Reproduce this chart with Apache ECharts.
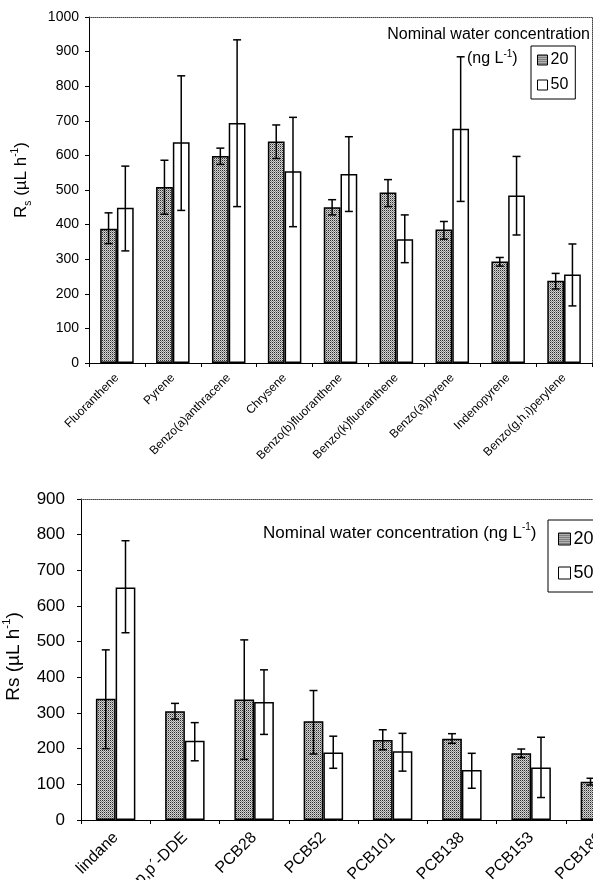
<!DOCTYPE html>
<html><head><meta charset="utf-8">
<script src="https://cdn.jsdelivr.net/npm/echarts@6/dist/echarts.min.js"></script>
<style>html,body{margin:0;padding:0;background:#fff}#c{width:593px;height:880px}</style>
</head><body><div id="c"></div>
<script>
// ---------- data: PAHs (top chart) ----------
const pahCategories = ['Fluoranthene','Pyrene','Benzo(a)anthracene','Chrysene','Benzo(b)fluoranthene','Benzo(k)fluoranthene','Benzo(a)pyrene','Indenopyrene','Benzo(g,h,i)perylene'];
const pah20   = [388, 509, 598, 640, 450, 493, 386, 293, 238];
const pah20Lo = [345, 430, 574, 591, 428, 452, 358, 280, 214];
const pah20Hi = [434, 586, 621, 688, 472, 530, 409, 305, 259];
const pah50   = [449, 638, 694, 554, 546, 358, 677, 484, 256];
const pah50Lo = [324, 441, 452, 394, 438, 290, 467, 370, 165];
const pah50Hi = [569, 830, 934, 710, 654, 428, 885, 597, 344];
const pahTicks = {min: 0, max: 1000, interval: 100};

// ---------- data: OCPs / PCBs (bottom chart) ----------
const ocCategories = ['lindane','p,p\u00b4-DDE','PCB28','PCB52','PCB101','PCB138','PCB153','PCB180'];
const oc20   = [340, 305, 338, 277, 224, 228, 187, 107];
const oc20Lo = [200, 283, 170, 185, 197, 215, 175, 98];
const oc20Hi = [477, 327, 505, 363, 253, 242, 199, 117];
const oc50   = [652, 222, 331, 189, 193, 140, 147, null];
const oc50Lo = [525, 166, 240, 145, 137, 89, 63, null];
const oc50Hi = [783, 273, 421, 235, 243, 187, 232, null];
const ocTicks = {min: 0, max: 900, interval: 100};

const seriesNames = ['20', '50'];

// ---------- helpers ----------
function makePattern() {
  const cv = document.createElement('canvas');
  cv.width = 2; cv.height = 2;
  const g = cv.getContext('2d');
  g.fillStyle = '#d2d2d2'; g.fillRect(0, 0, 2, 2);
  g.fillStyle = '#2e2e2e'; g.fillRect(0, 0, 1, 1);
  g.fillStyle = '#8c8c8c'; g.fillRect(1, 1, 1, 1);
  return {image: cv, repeat: 'repeat'};
}
const stipple = makePattern();
const FONT = '"Liberation Sans", Arial, sans-serif';

function errData(lo, hi) {
  const out = [];
  lo.forEach((v, i) => { if (v != null && hi[i] != null) out.push([i, v, hi[i]]); });
  return out;
}
function errRender(side, barPct) {
  return function (params, api) {
    const i = api.value(0), lo = api.value(1), hi = api.value(2);
    const catW = api.size([1, 0])[0];
    const bw = catW * barPct;
    const b = api.coord([i, lo]);
    const t = api.coord([i, hi]);
    const cx = b[0] + side * bw / 2;
    const cap = 4;
    const st = {stroke: '#000', lineWidth: 1.5};
    return {type: 'group', children: [
      {type: 'line', shape: {x1: cx, y1: b[1], x2: cx, y2: t[1]}, style: st},
      {type: 'line', shape: {x1: cx - cap, y1: t[1], x2: cx + cap, y2: t[1]}, style: st},
      {type: 'line', shape: {x1: cx - cap, y1: b[1], x2: cx + cap, y2: b[1]}, style: st}
    ]};
  };
}

function catAxis(gridIndex, data, fontSize, margin) {
  return {
    type: 'category', gridIndex, data,
    axisLine: {lineStyle: {color: '#000', width: 1}},
    axisTick: {show: true, length: 4, lineStyle: {color: '#000'}},
    axisLabel: {rotate: 45, interval: 0, fontSize, color: '#000', fontFamily: FONT, margin}
  };
}
function valAxis(gridIndex, ticks, fontSize, margin, name, nameSize, nameGap, sub, namePad) {
  return {
    type: 'value', gridIndex, min: ticks.min, max: ticks.max, interval: ticks.interval,
    axisLine: {show: true, lineStyle: {color: '#000', width: 1}},
    axisTick: {show: true, length: 4, lineStyle: {color: '#000'}},
    splitLine: {show: false},
    axisLabel: {fontSize, color: '#000', fontFamily: FONT, margin, formatter: v => String(v)},
    name, nameLocation: 'middle', nameGap, nameRotate: 90,
    nameTextStyle: {
      fontFamily: FONT, color: '#000', padding: namePad,
      rich: {
        a: {fontSize: nameSize, fontFamily: FONT, color: '#000', lineHeight: nameSize + 6},
        sub: {fontSize: sub ? nameSize * 0.6 : nameSize, fontFamily: FONT, color: '#000', verticalAlign: 'bottom', lineHeight: nameSize + 6},
        sup: {fontSize: nameSize * 0.6, fontFamily: FONT, color: '#000', verticalAlign: 'top', lineHeight: nameSize + 6}
      }
    }
  };
}
function borderX(gridIndex) {
  return {type: 'value', gridIndex, position: 'top', min: 0, max: 1,
    axisLine: {show: true, onZero: false, lineStyle: {type: 'dotted', color: '#444'}},
    axisTick: {show: false}, axisLabel: {show: false}, splitLine: {show: false}};
}
function borderY(gridIndex) {
  return {type: 'value', gridIndex, position: 'right', min: 0, max: 1,
    axisLine: {show: true, onZero: false, lineStyle: {type: 'dotted', color: '#444'}},
    axisTick: {show: false}, axisLabel: {show: false}, splitLine: {show: false}};
}
function bars(xi, yi, name, data, color, barPct) {
  return {type: 'bar', name, xAxisIndex: xi, yAxisIndex: yi, data,
    barWidth: (barPct * 100) + '%', barGap: '0%',
    itemStyle: {color, borderColor: '#000', borderWidth: 1.5},
    emphasis: {disabled: true}, z: 2};
}
function errSeries(xi, yi, lo, hi, side, barPct) {
  return {type: 'custom', xAxisIndex: xi, yAxisIndex: yi, data: errData(lo, hi),
    renderItem: errRender(side, barPct), z: 5, silent: true};
}

const topPct = 0.30, botPct = 0.285;

const option = {
  animation: false,
  backgroundColor: '#fff',
  textStyle: {fontFamily: FONT},
  grid: [
    {left: 89, top: 17, width: 503, height: 346, outerBoundsMode: 'none', containLabel: false},
    {left: 81, top: 499, width: 554, height: 321, outerBoundsMode: 'none', containLabel: false}
  ],
  xAxis: [
    catAxis(0, pahCategories, 12, 13),
    borderX(0),
    catAxis(1, ocCategories, 16, 15),
    borderX(1)
  ],
  yAxis: [
    valAxis(0, pahTicks, 14, 10, '{a|R}{sub|s}{a| (\u00b5L h}{sup|-1}{a|)}', 17, 56, true, [0, 0, 0, 20]),
    borderY(0),
    valAxis(1, ocTicks, 17, 16, '{a|Rs (\u00b5L h}{sup|-1}{a|)}', 19, 55, false, [0, 0, 0, 6])
  ],
  legend: [
    {orient: 'vertical', left: 531, top: 46, data: seriesNames,
     icon: 'rect', itemWidth: 10, itemHeight: 10, itemGap: 9, padding: [6, 7, 6, 6],
     borderColor: '#000', borderWidth: 1, selectedMode: false,
     itemStyle: {borderColor: '#000', borderWidth: 1},
     textStyle: {fontSize: 16, color: '#000', fontFamily: FONT, padding: [0, 0, 0, -2]}},
    {orient: 'vertical', left: 548, top: 520, data: seriesNames,
     icon: 'rect', itemWidth: 12, itemHeight: 12, itemGap: 16, padding: [10, 10, 10, 10],
     borderColor: '#000', borderWidth: 1, selectedMode: false,
     itemStyle: {borderColor: '#000', borderWidth: 1},
     textStyle: {fontSize: 18, color: '#000', fontFamily: FONT, padding: [0, 0, 0, -2]}}
  ],
  graphic: [
    {type: 'text', right: 3, top: 27, z: 10,
     style: {text: 'Nominal water concentration', fontSize: 16, fontFamily: FONT, fill: '#000'}},
    {type: 'text', left: 467, top: 49, z: 10,
     style: {text: '{a|(ng L}{sup|-1}{a|)}', fill: '#000',
       rich: {a: {fontSize: 16, fontFamily: FONT, fill: '#000', lineHeight: 20},
              sup: {fontSize: 10, fontFamily: FONT, fill: '#000', verticalAlign: 'top', lineHeight: 20}}}},
    {type: 'text', left: 263, top: 522, z: 10,
     style: {text: '{a|Nominal water concentration (ng L}{sup|-1}{a|)}', fill: '#000',
       rich: {a: {fontSize: 17, fontFamily: FONT, fill: '#000', lineHeight: 22},
              sup: {fontSize: 10, fontFamily: FONT, fill: '#000', verticalAlign: 'top', lineHeight: 22}}}}
  ],
  series: [
    bars(0, 0, seriesNames[0], pah20, stipple, topPct),
    bars(0, 0, seriesNames[1], pah50, '#fff', topPct),
    errSeries(0, 0, pah20Lo, pah20Hi, -1, topPct),
    errSeries(0, 0, pah50Lo, pah50Hi, 1, topPct),
    bars(2, 2, seriesNames[0], oc20, stipple, botPct),
    bars(2, 2, seriesNames[1], oc50, '#fff', botPct),
    errSeries(2, 2, oc20Lo, oc20Hi, -1, botPct),
    errSeries(2, 2, oc50Lo, oc50Hi, 1, botPct)
  ]
};
const chart = echarts.init(document.getElementById('c'), null, {renderer: 'canvas'});
chart.setOption(option);
</script>
</body></html>
